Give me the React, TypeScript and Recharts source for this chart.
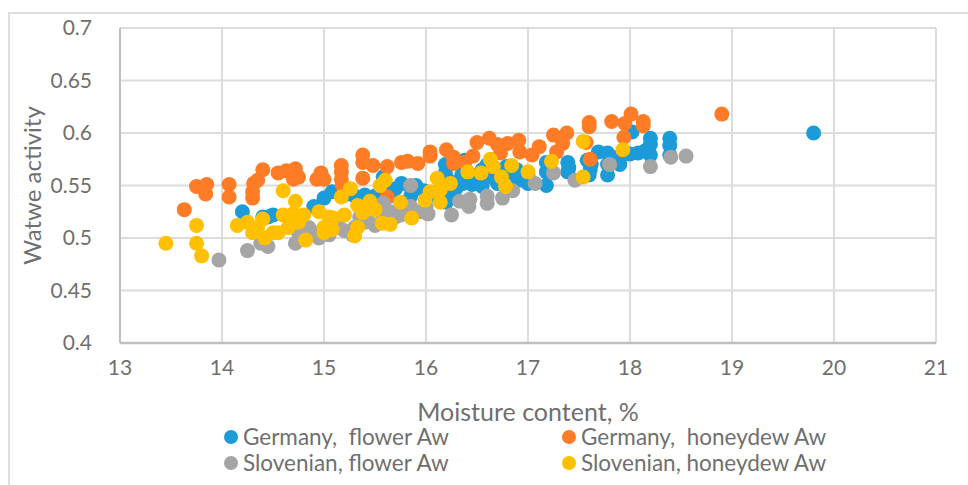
import { CartesianGrid, Legend, Scatter, ScatterChart, XAxis, YAxis } from "recharts";

const germanyFlower = [
  [14.2, 0.525], [14.4, 0.52], [14.45, 0.52], [14.5, 0.522], [14.9, 0.53], [15.0, 0.538], [15.08, 0.544], [15.2, 0.541], [15.3, 0.54],
  [15.4, 0.541], [15.48, 0.537], [15.5, 0.54], [15.55, 0.535], [15.58, 0.558], [15.6, 0.548], [15.65, 0.54], [15.7, 0.547], [15.76, 0.552],
  [15.85, 0.548], [15.85, 0.54], [15.9, 0.55], [15.98, 0.545], [16.05, 0.543], [16.1, 0.54], [16.15, 0.55], [16.19, 0.57], [16.19, 0.562],
  [16.22, 0.555], [16.2, 0.534], [16.25, 0.545], [16.3, 0.548], [16.35, 0.56], [16.36, 0.552], [16.38, 0.574], [16.45, 0.551], [16.45, 0.56],
  [16.5, 0.555], [16.55, 0.549], [16.55, 0.565], [16.6, 0.558], [16.6, 0.57], [16.7, 0.552], [16.7, 0.565], [16.75, 0.56], [16.79, 0.568],
  [16.85, 0.562], [16.89, 0.565], [16.9, 0.555], [16.95, 0.555], [16.95, 0.56], [17.0, 0.552], [17.0, 0.56], [17.18, 0.572], [17.18, 0.563],
  [17.18, 0.55], [17.2, 0.565], [17.39, 0.572], [17.39, 0.563], [17.4, 0.567], [17.58, 0.574], [17.6, 0.56], [17.61, 0.565], [17.62, 0.57],
  [17.69, 0.582], [17.78, 0.581], [17.78, 0.57], [17.78, 0.56], [17.88, 0.577], [17.9, 0.57], [17.95, 0.58], [18.0, 0.58], [18.02, 0.601],
  [18.08, 0.581], [18.15, 0.583], [18.2, 0.595], [18.2, 0.589], [18.2, 0.579], [18.39, 0.595], [18.39, 0.588], [18.39, 0.579],
  [19.8, 0.6],
];

const germanyHoneydew = [
  [13.63, 0.527], [13.75, 0.549], [13.85, 0.551], [13.84, 0.542], [14.07, 0.551], [14.07, 0.539], [14.31, 0.552], [14.3, 0.544],
  [14.3, 0.538], [14.35, 0.555], [14.4, 0.565], [14.55, 0.562], [14.63, 0.564], [14.72, 0.566], [14.7, 0.556], [14.75, 0.558],
  [14.93, 0.556], [14.97, 0.562], [15.0, 0.556], [15.17, 0.569], [15.17, 0.563], [15.17, 0.556], [15.18, 0.55], [15.38, 0.579],
  [15.38, 0.572], [15.38, 0.557], [15.48, 0.569], [15.62, 0.568], [15.62, 0.539], [15.76, 0.572], [15.82, 0.573], [15.92, 0.571],
  [16.04, 0.582], [16.04, 0.578], [16.2, 0.584], [16.27, 0.577], [16.27, 0.571], [16.38, 0.572], [16.46, 0.578], [16.5, 0.591],
  [16.62, 0.595], [16.7, 0.589], [16.73, 0.581], [16.8, 0.59], [16.91, 0.593], [16.92, 0.582], [17.04, 0.579], [17.11, 0.587],
  [17.25, 0.598], [17.28, 0.582], [17.34, 0.59], [17.38, 0.6], [17.57, 0.591], [17.6, 0.61], [17.6, 0.606], [17.61, 0.575],
  [17.8, 0.57], [17.82, 0.611], [17.94, 0.596], [17.95, 0.609], [18.01, 0.618], [18.13, 0.611], [18.13, 0.607], [18.9, 0.618],
];

const slovenianFlower = [
  [13.97, 0.479], [14.25, 0.488], [14.38, 0.495], [14.45, 0.492], [14.72, 0.495], [14.78, 0.5], [14.75, 0.505], [14.85, 0.51], [14.9, 0.505],
  [14.95, 0.5], [15.0, 0.508], [15.05, 0.503], [15.05, 0.51], [15.1, 0.515], [15.15, 0.51], [15.2, 0.507], [15.28, 0.503], [15.3, 0.51],
  [15.35, 0.52], [15.4, 0.515], [15.42, 0.52], [15.45, 0.525], [15.5, 0.512], [15.55, 0.525], [15.58, 0.533], [15.65, 0.525], [15.7, 0.52],
  [15.75, 0.522], [15.85, 0.55], [15.85, 0.53], [15.85, 0.52], [15.95, 0.525], [16.0, 0.53], [16.02, 0.523], [16.25, 0.522], [16.33, 0.535],
  [16.42, 0.53], [16.43, 0.537], [16.6, 0.533], [16.6, 0.54], [16.75, 0.538], [16.85, 0.545], [17.07, 0.552], [17.25, 0.562], [17.46, 0.555],
  [17.8, 0.57], [18.2, 0.568], [18.4, 0.577], [18.55, 0.578],
];

const slovenianHoneydew = [
  [13.45, 0.495], [13.75, 0.495], [13.75, 0.512], [13.8, 0.483], [14.15, 0.512], [14.25, 0.515], [14.3, 0.505], [14.35, 0.51],
  [14.4, 0.518], [14.42, 0.5], [14.5, 0.505], [14.55, 0.505], [14.6, 0.545], [14.6, 0.522], [14.65, 0.51], [14.7, 0.523],
  [14.72, 0.535], [14.75, 0.515], [14.8, 0.522], [14.82, 0.498], [14.95, 0.525], [15.0, 0.51], [15.0, 0.505], [15.05, 0.52],
  [15.09, 0.519], [15.08, 0.508], [15.17, 0.539], [15.2, 0.522], [15.26, 0.547], [15.33, 0.531], [15.33, 0.51], [15.3, 0.502],
  [15.38, 0.524], [15.45, 0.535], [15.5, 0.527], [15.55, 0.55], [15.57, 0.514], [15.6, 0.555], [15.65, 0.513], [15.75, 0.534],
  [15.86, 0.519], [15.99, 0.536], [16.04, 0.544], [16.11, 0.557], [16.14, 0.546], [16.14, 0.534], [16.24, 0.552], [16.41, 0.563],
  [16.54, 0.562], [16.63, 0.575], [16.66, 0.568], [16.74, 0.558], [16.78, 0.549], [16.84, 0.569], [17.0, 0.563], [17.23, 0.573],
  [17.54, 0.592], [17.54, 0.558], [17.93, 0.584],
];

const xTicks = [13, 14, 15, 16, 17, 18, 19, 20, 21];
const yTicks = [0.4, 0.45, 0.5, 0.55, 0.6, 0.65, 0.7];

const toPoints = (rows: number[][]) => rows.map(([moisture, aw]) => ({ moisture, aw }));

const seriesList = [
  { name: "Germany,  flower Aw", color: "#1b9cd8", rows: germanyFlower },
  { name: "Germany,  honeydew Aw", color: "#ff7c27", rows: germanyHoneydew },
  { name: "Slovenian, flower Aw", color: "#a5a5a5", rows: slovenianFlower },
  { name: "Slovenian, honeydew Aw", color: "#ffc000", rows: slovenianHoneydew },
];

const fontFamily = "Lato, sans-serif";
const textColor = "#6f6f6f";

const renderLegend = ({ payload }: any) => (
  <div style={{ display: "grid", gridTemplateColumns: "338px 300px", fontFamily, fontSize: 22.5, color: textColor, lineHeight: "26px", whiteSpace: "pre" }}>
    {(payload || []).map((item: any) => (
      <div key={item.value} style={{ display: "flex", alignItems: "center" }}>
        <span style={{ width: 14, height: 14, borderRadius: 7, background: item.color, marginRight: 5 }} />
        {item.value}
      </div>
    ))}
  </div>
);

const renderDot = (color: string) => (props: any) => <circle cx={props.cx} cy={props.cy} r={7.5} fill={color} />;

export default function App() {
  return (
    <div style={{ position: "absolute", left: 0, top: 0, width: 968, height: 485, background: "#fff", overflow: "hidden" }}>
      <div style={{ position: "absolute", left: 8, top: 12, width: 970, height: 480, borderLeft: "2px solid #dedede", borderTop: "2px solid #dedede" }} />
      <ScatterChart width={968} height={485} margin={{ top: 28, right: 32, bottom: 0, left: 0 }} style={{ position: "absolute", left: 0, top: 0 }}>
        <CartesianGrid stroke="#dcdcdc" strokeWidth={2} />
        <XAxis
          type="number"
          dataKey="moisture"
          domain={[13, 21]}
          ticks={xTicks}
          height={142}
          interval={0}
          axisLine={{ stroke: "#bfbfbf", strokeWidth: 2.5 }}
          tickLine={false}
          tickMargin={11}
          tick={{ fill: textColor, fontSize: 21, fontFamily }}
          label={{ value: "Moisture content, %", position: "insideTop", offset: 60, fill: textColor, fontSize: 25, fontFamily }}
        />
        <YAxis
          type="number"
          dataKey="aw"
          domain={[0.4, 0.7]}
          ticks={yTicks}
          width={120}
          interval={0}
          axisLine={{ stroke: "#bfbfbf", strokeWidth: 2 }}
          tickLine={false}
          tickMargin={22}
          tick={{ fill: textColor, fontSize: 21, fontFamily }}
          tickFormatter={(v: number) => String(Number(v.toFixed(2)))}
          label={{ value: "Watwe activity", angle: -90, position: "insideLeft", offset: 32, fill: textColor, fontSize: 24, fontFamily, style: { textAnchor: "middle" } }}
        />
        {seriesList.map((s) => (
          <Scatter key={s.name} name={s.name} data={toPoints(s.rows)} fill={s.color} shape={renderDot(s.color)} isAnimationActive={false} />
        ))}
        <Legend content={renderLegend} verticalAlign="middle" wrapperStyle={{ left: 224, top: 424, width: 640 }} />
      </ScatterChart>
    </div>
  );
}
